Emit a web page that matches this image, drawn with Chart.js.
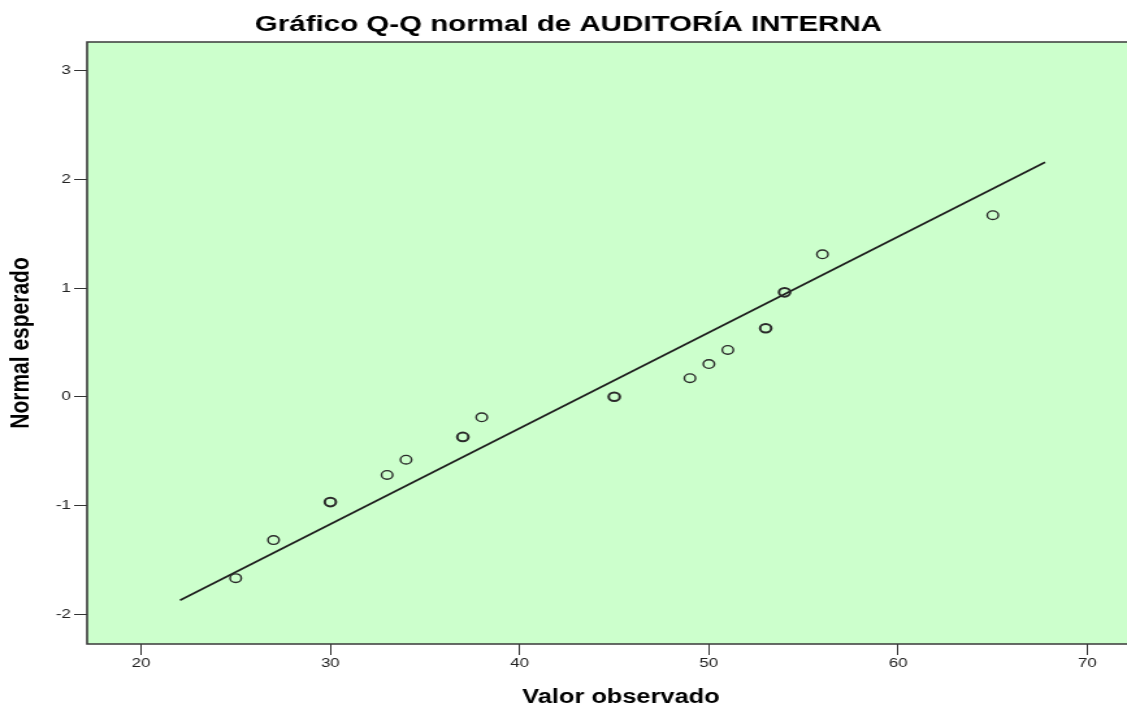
<!DOCTYPE html>
<html>
<head>
<meta charset="utf-8">
<script src="https://cdn.jsdelivr.net/npm/chart.js@4/dist/chart.umd.min.js"></script>
<style>
  html, body { margin: 0; padding: 0; background: #ffffff; overflow: hidden; width: 1127px; height: 710px; }
  #c { transform: scaleX(1.29988); transform-origin: 0 0; }
</style>
</head>
<body>
<canvas id="c" width="867" height="710"></canvas>
<script>
// ---- data ----
const chartTitle = 'Gráfico Q-Q normal de AUDITORÍA INTERNA';
const xAxisTitle = 'Valor observado';
const yAxisTitle = 'Normal esperado';
const observedValues = [25, 27, 30, 33, 34, 37, 38, 45, 49, 50, 51, 53, 54, 56, 65];
const expectedNormal = [-1.67, -1.32, -0.97, -0.72, -0.58, -0.37, -0.19, 0.00, 0.17, 0.30, 0.43, 0.63, 0.96, 1.31, 1.67];
const boldObserved = [30, 37, 45, 53, 54];
const lineX = [22.06, 67.76];
const lineY = [-1.873, 2.157];
const xTicks = [20, 30, 40, 50, 60, 70];
const yTicks = [-2, -1, 0, 1, 2, 3];

const pts = observedValues.map((x, i) => ({ x: x, y: expectedNormal[i] }));
const linePts = lineX.map((x, i) => ({ x: x, y: lineY[i] }));

const FONT = '"Liberation Sans", Arial, sans-serif';

const frame = {
  id: 'frame',
  beforeDraw(chart) {
    const { ctx, chartArea: { left, top, right, bottom } } = chart;
    ctx.save();
    ctx.fillStyle = '#ffffff';
    ctx.fillRect(0, 0, chart.width, chart.height);
    ctx.fillStyle = '#ccffcc';
    ctx.fillRect(left, top, right - left, bottom - top);
    ctx.restore();
  },
  beforeDatasetsDraw(chart) {
    const { ctx, chartArea: { left, top, right, bottom } } = chart;
    ctx.save();
    ctx.strokeStyle = '#3a3a3a';
    ctx.lineWidth = 1.6;
    ctx.beginPath();
    ctx.moveTo(right, top);
    ctx.lineTo(left, top);
    ctx.lineTo(left, bottom);
    ctx.lineTo(right, bottom);
    ctx.stroke();
    ctx.restore();
  },
  afterDraw(chart) {
    const ctx = chart.ctx;
    ctx.save();
    ctx.fillStyle = '#000000';
    ctx.textAlign = 'center';
    ctx.textBaseline = 'middle';
    ctx.font = 'bold 22.7px ' + FONT;
    ctx.fillText(chartTitle, 437.3, 25);
    ctx.font = 'bold 19.5px ' + FONT;
    ctx.fillText(xAxisTitle, 477.7, 697.3);
    ctx.restore();
  }
};

new Chart(document.getElementById('c'), {
  type: 'scatter',
  data: {
    datasets: [
      {
        type: 'line',
        data: linePts,
        borderColor: '#1e1e1e',
        borderWidth: 1.7,
        pointRadius: 0,
        fill: false,
        order: 2
      },
      {
        data: pts,
        pointStyle: 'circle',
        pointRadius: 4.3,
        pointBackgroundColor: 'rgba(0,0,0,0)',
        pointBorderColor: '#2a2a2a',
        pointBorderWidth: ctx => (ctx.raw && boldObserved.includes(ctx.raw.x)) ? 2 : 1.4,
        order: 1
      }
    ]
  },
  options: {
    responsive: false,
    animation: false,
    events: [],
    layout: { autoPadding: false, padding: { top: 42, left: 0, right: 0, bottom: 0 } },
    plugins: { legend: { display: false }, tooltip: { enabled: false }, title: { display: false } },
    scales: {
      x: {
        type: 'linear',
        min: 17.15,
        max: 72.09,
        afterBuildTicks: s => { s.ticks = xTicks.map(v => ({ value: v })); },
        afterFit: s => { s.height = 66; s.paddingLeft = 0; s.paddingRight = 0; },
        grid: { drawOnChartArea: false, drawTicks: true, tickLength: 11, color: '#333333', lineWidth: 1 },
        border: { display: false },
        ticks: { color: '#222222', font: { family: FONT, size: 13 }, padding: 1, maxRotation: 0 },
        title: { display: false, text: xAxisTitle }
      },
      y: {
        type: 'linear',
        min: -2.276,
        max: 3.264,
        afterBuildTicks: s => { s.ticks = yTicks.map(v => ({ value: v })); },
        afterFit: s => { s.width = 67; s.paddingTop = 0; s.paddingBottom = 0; },
        grid: { drawOnChartArea: false, drawTicks: true, tickLength: 10, color: '#333333', lineWidth: 1 },
        border: { display: false },
        ticks: { color: '#222222', font: { family: FONT, size: 13 }, padding: 2.5 },
        title: { display: true, text: yAxisTitle, color: '#000000', font: { family: FONT, size: 21, weight: 'bold' }, padding: { top: 4, bottom: 0 } }
      }
    }
  },
  plugins: [frame]
});
</script>
</body>
</html>
